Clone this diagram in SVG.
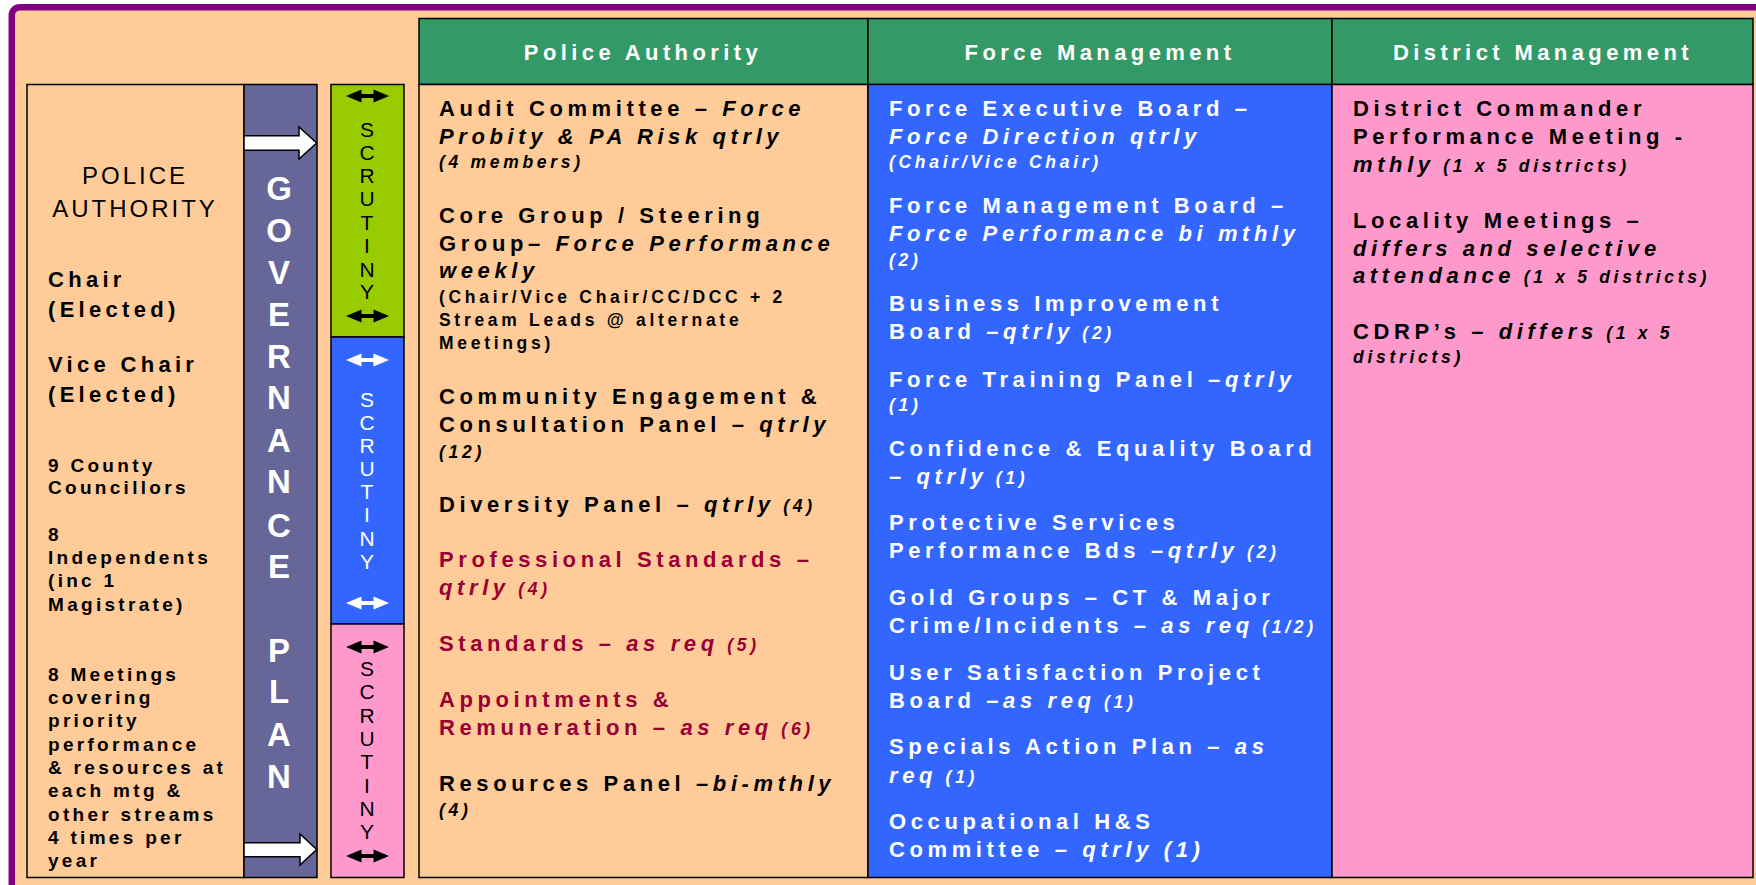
<svg xmlns="http://www.w3.org/2000/svg" width="1756" height="885" viewBox="0 0 1756 885">
<style>
text{font-family:"Liberation Sans",Arial,sans-serif;font-weight:bold;font-size:22px;letter-spacing:4.6px}
.s{font-size:17.5px;letter-spacing:3.7px}
.i{font-style:italic}
.w{fill:#fff}
.k{fill:#000}
.r{fill:#990033}
.hd{fill:#fff;font-size:22px;letter-spacing:4.4px;text-anchor:middle}
.lt{font-size:22px;letter-spacing:4.3px}
.ls{font-size:19px;letter-spacing:3.3px}
.pa{font-weight:normal;font-size:24px;letter-spacing:3px;text-anchor:middle}
.gv{fill:#fff;font-size:33px;letter-spacing:0;text-anchor:middle}
.sc{font-weight:normal;font-size:21px;letter-spacing:0;text-anchor:middle}
.box{stroke:#000;stroke-width:1.5}
.arr{fill:#fff;stroke:#000;stroke-width:1.5;stroke-linejoin:miter}
</style>
<defs>
<polygon id="dbl" points="-21.5,0 -6,-6.5 -6,-2 6,-2 6,-6.5 21.5,0 6,6.5 6,2 -6,2 -6,6.5"/>
</defs>
<rect x="0" y="0" width="1756" height="885" fill="#fff"/>
<rect x="11.8" y="7.2" width="1800" height="1000" rx="8" fill="#FFCC99" stroke="#800080" stroke-width="6.5"/>

<g id="police-authority-box">
<rect class="box" x="27" y="84.5" width="217" height="793" fill="#FFCC99"/>
<text class="pa k" x="135" y="184">POLICE</text>
<text class="pa k" x="135" y="217">AUTHORITY</text>
<text class="lt k" x="48" y="287">Chair</text>
<text class="lt k" x="48" y="317">(Elected)</text>
<text class="lt k" x="48" y="372">Vice Chair</text>
<text class="lt k" x="48" y="402">(Elected)</text>
<text class="ls k" x="48" y="472">9 County</text>
<text class="ls k" x="48" y="494">Councillors</text>
<text class="ls k" x="48" y="541">8</text>
<text class="ls k" x="48" y="564">Independents</text>
<text class="ls k" x="48" y="587">(inc 1</text>
<text class="ls k" x="48" y="611">Magistrate)</text>
<text class="ls k" x="48" y="681">8 Meetings</text>
<text class="ls k" x="48" y="704">covering</text>
<text class="ls k" x="48" y="727">priority</text>
<text class="ls k" x="48" y="751">performance</text>
<text class="ls k" x="48" y="774">&amp; resources at</text>
<text class="ls k" x="48" y="797">each mtg &amp;</text>
<text class="ls k" x="48" y="821">other streams</text>
<text class="ls k" x="48" y="844">4 times per</text>
<text class="ls k" x="48" y="867">year</text>
</g>

<g id="governance-plan">
<rect class="box" x="244" y="84.5" width="73" height="793" fill="#666699"/>
<text class="gv" x="279" y="200">G</text>
<text class="gv" x="279" y="242">O</text>
<text class="gv" x="279" y="284">V</text>
<text class="gv" x="279" y="326">E</text>
<text class="gv" x="279" y="368">R</text>
<text class="gv" x="279" y="409">N</text>
<text class="gv" x="279" y="452">A</text>
<text class="gv" x="279" y="493">N</text>
<text class="gv" x="279" y="537">C</text>
<text class="gv" x="279" y="578">E</text>
<text class="gv" x="279" y="662">P</text>
<text class="gv" x="279" y="703">L</text>
<text class="gv" x="279" y="746">A</text>
<text class="gv" x="279" y="788">N</text>
</g>

<g id="scrutiny-green">
<rect class="box" x="331" y="84.5" width="73" height="252.5" fill="#99CC00"/>
<text class="sc k" x="367" y="137">S</text>
<text class="sc k" x="367" y="160">C</text>
<text class="sc k" x="367" y="183">R</text>
<text class="sc k" x="367" y="206">U</text>
<text class="sc k" x="367" y="230">T</text>
<text class="sc k" x="367" y="253">I</text>
<text class="sc k" x="367" y="277">N</text>
<text class="sc k" x="367" y="299">Y</text>
</g>
<g id="scrutiny-blue">
<rect class="box" x="331" y="337" width="73" height="287" fill="#3366FF"/>
<text class="sc w" x="367" y="407">S</text>
<text class="sc w" x="367" y="430">C</text>
<text class="sc w" x="367" y="453">R</text>
<text class="sc w" x="367" y="476">U</text>
<text class="sc w" x="367" y="499">T</text>
<text class="sc w" x="367" y="522">I</text>
<text class="sc w" x="367" y="546">N</text>
<text class="sc w" x="367" y="569">Y</text>
</g>
<g id="scrutiny-pink">
<rect class="box" x="331" y="624" width="73" height="253.5" fill="#FF99CC"/>
<text class="sc k" x="367" y="676">S</text>
<text class="sc k" x="367" y="699">C</text>
<text class="sc k" x="367" y="723">R</text>
<text class="sc k" x="367" y="746">U</text>
<text class="sc k" x="367" y="769">T</text>
<text class="sc k" x="367" y="793">I</text>
<text class="sc k" x="367" y="816">N</text>
<text class="sc k" x="367" y="839">Y</text>
</g>

<g id="col-police-authority">
<rect class="box" x="419" y="18.5" width="449" height="66" fill="#339966"/>
<text class="hd" x="643" y="60">Police Authority</text>
<rect class="box" x="419" y="84.5" width="449" height="793" fill="#FFCC99"/>
<text class="k" x="439" y="116">Audit Committee – <tspan class="i">Force</tspan></text>
<text class="k i" x="439" y="144">Probity &amp; PA Risk qtrly</text>
<text class="k i s" x="439" y="168">(4 members)</text>
<text class="k" x="439" y="223">Core Group / Steering</text>
<text class="k" x="439" y="251">Group– <tspan class="i">Force Performance</tspan></text>
<text class="k i" x="439" y="278">weekly</text>
<text class="k s" x="439" y="303">(Chair/Vice Chair/CC/DCC + 2</text>
<text class="k s" x="439" y="326">Stream Leads @ alternate</text>
<text class="k s" x="439" y="349">Meetings)</text>
<text class="k" x="439" y="404">Community Engagement &amp;</text>
<text class="k" x="439" y="432">Consultation Panel – <tspan class="i">qtrly</tspan></text>
<text class="k i s" x="439" y="458">(12)</text>
<text class="k" x="439" y="512">Diversity Panel – <tspan class="i">qtrly</tspan><tspan class="i s"> (4)</tspan></text>
<text class="r" x="439" y="567">Professional Standards –</text>
<text class="r i" x="439" y="595">qtrly<tspan class="s"> (4)</tspan></text>
<text class="r" x="439" y="651">Standards – <tspan class="i">as req</tspan><tspan class="i s"> (5)</tspan></text>
<text class="r" x="439" y="707">Appointments &amp;</text>
<text class="r" x="439" y="735">Remuneration – <tspan class="i">as req</tspan><tspan class="i s"> (6)</tspan></text>
<text class="k" x="439" y="791">Resources Panel –<tspan class="i">bi-mthly</tspan></text>
<text class="k i s" x="439" y="816">(4)</text>
</g>

<g id="col-force-management">
<rect class="box" x="868" y="18.5" width="464" height="66" fill="#339966"/>
<text class="hd" x="1100" y="60">Force Management</text>
<rect class="box" x="868" y="84.5" width="464" height="793" fill="#3366FF"/>
<text class="w" x="889" y="116">Force Executive Board –</text>
<text class="w i" x="889" y="144">Force Direction qtrly</text>
<text class="w i s" x="889" y="168">(Chair/Vice Chair)</text>
<text class="w" x="889" y="213">Force Management Board –</text>
<text class="w i" x="889" y="241">Force Performance bi mthly</text>
<text class="w i s" x="889" y="266">(2)</text>
<text class="w" x="889" y="311">Business Improvement</text>
<text class="w" x="889" y="339">Board –<tspan class="i">qtrly</tspan><tspan class="i s"> (2)</tspan></text>
<text class="w" x="889" y="387">Force Training Panel –<tspan class="i">qtrly</tspan></text>
<text class="w i s" x="889" y="411">(1)</text>
<text class="w" x="889" y="456">Confidence &amp; Equality Board</text>
<text class="w" x="889" y="484">– <tspan class="i">qtrly</tspan><tspan class="i s"> (1)</tspan></text>
<text class="w" x="889" y="530">Protective Services</text>
<text class="w" x="889" y="558">Performance Bds –<tspan class="i">qtrly</tspan><tspan class="i s"> (2)</tspan></text>
<text class="w" x="889" y="605">Gold Groups – CT &amp; Major</text>
<text class="w" x="889" y="633">Crime/Incidents – <tspan class="i">as req</tspan><tspan class="i s"> (1/2)</tspan></text>
<text class="w" x="889" y="680">User Satisfaction Project</text>
<text class="w" x="889" y="708">Board –<tspan class="i">as req</tspan><tspan class="i s"> (1)</tspan></text>
<text class="w" x="889" y="754">Specials Action Plan – <tspan class="i">as</tspan></text>
<text class="w i" x="889" y="783">req<tspan class="s"> (1)</tspan></text>
<text class="w" x="889" y="829">Occupational H&amp;S</text>
<text class="w" x="889" y="857">Committee – <tspan class="i">qtrly (1)</tspan></text>
</g>

<g id="col-district-management">
<rect class="box" x="1332" y="18.5" width="421" height="66" fill="#339966"/>
<text class="hd" x="1543" y="60">District Management</text>
<rect class="box" x="1332" y="84.5" width="421" height="793" fill="#FF99CC"/>
<text class="k" x="1353" y="116">District Commander</text>
<text class="k" x="1353" y="144">Performance Meeting -</text>
<text class="k i" x="1353" y="172">mthly<tspan class="s"> (1 x 5 districts)</tspan></text>
<text class="k" x="1353" y="228">Locality Meetings –</text>
<text class="k i" x="1353" y="256">differs and selective</text>
<text class="k i" x="1353" y="283">attendance<tspan class="s"> (1 x 5 districts)</tspan></text>
<text class="k" x="1353" y="339">CDRP’s – <tspan class="i">differs</tspan><tspan class="i s"> (1 x 5</tspan></text>
<text class="k i s" x="1353" y="363">districts)</text>
</g>

<g id="connectors">
<polygon class="arr" points="244,135.7 299,135.7 299,127 316.7,143 299,159 299,150.3 244,150.3"/>
<polygon class="arr" points="244,842.7 300,842.7 300,834 316.7,849.5 300,865 300,856.7 244,856.7"/>
<use href="#dbl" x="367.5" y="96" fill="#000"/>
<use href="#dbl" x="367.5" y="316" fill="#000"/>
<use href="#dbl" x="367.5" y="360" fill="#fff"/>
<use href="#dbl" x="367.5" y="603" fill="#fff"/>
<use href="#dbl" x="367.5" y="647" fill="#000"/>
<use href="#dbl" x="367.5" y="856" fill="#000"/>
</g>
</svg>
